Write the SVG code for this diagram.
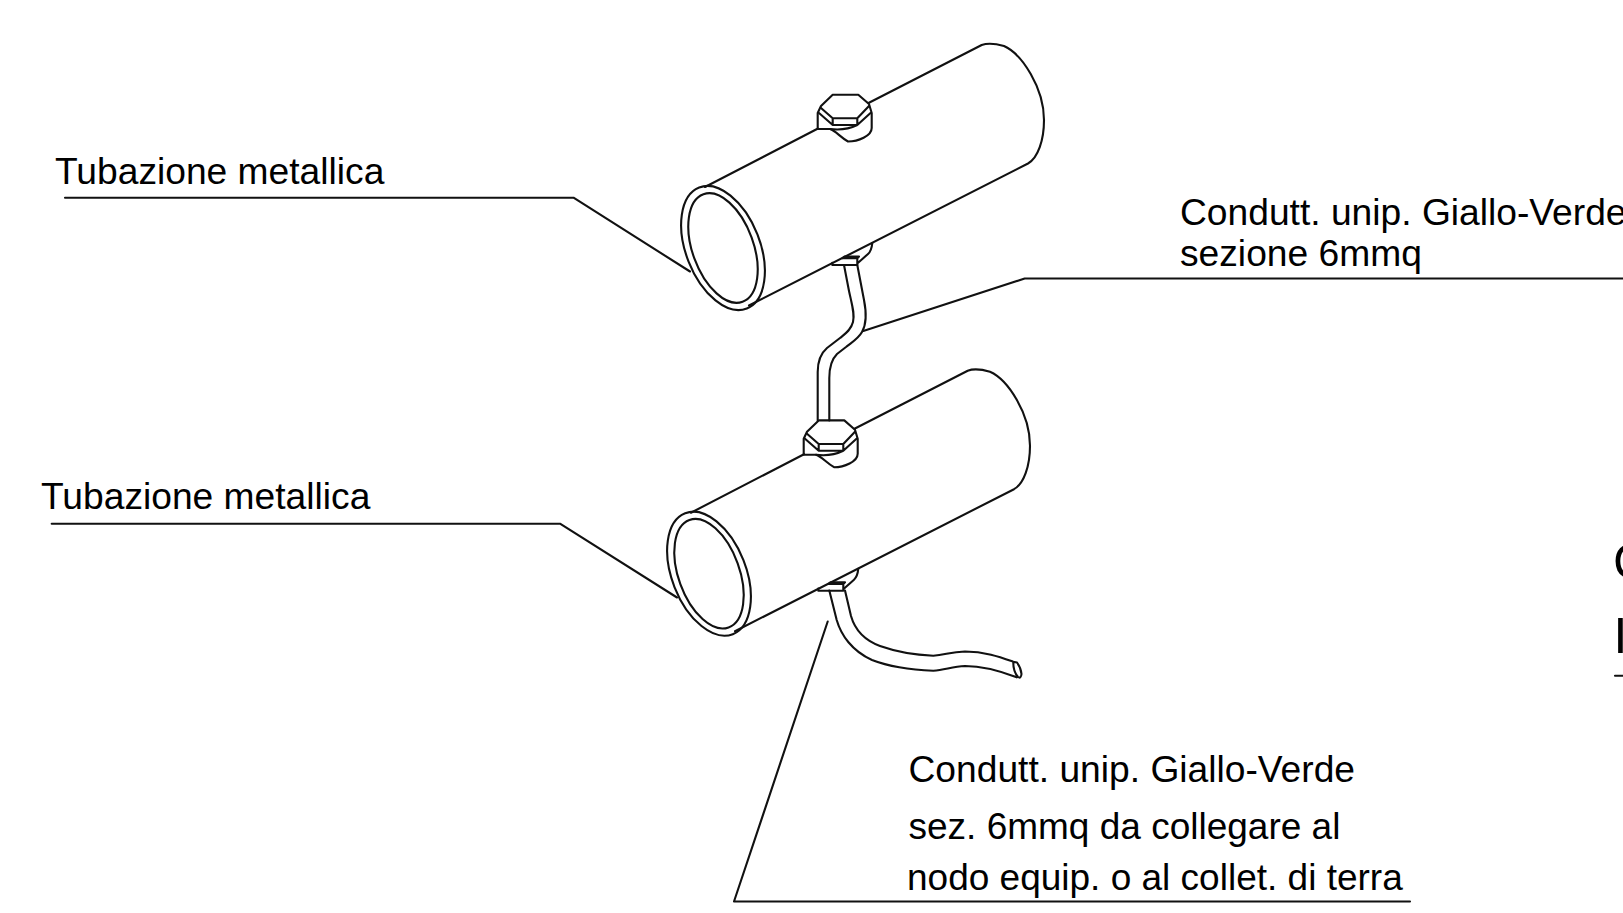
<svg xmlns="http://www.w3.org/2000/svg" xmlns:xlink="http://www.w3.org/1999/xlink" width="1623" height="913" viewBox="0 0 1623 913">
<style>
.l{fill:none;stroke:#111;stroke-width:2.1;stroke-linejoin:round;stroke-linecap:round}
.t{font-family:"Liberation Sans",Arial,sans-serif;font-size:37.2px;fill:#000}
.s{font-size:37px}
.b{font-family:"Liberation Sans",Arial,sans-serif;font-size:50px;fill:#000}
</style>
<defs>
<g id="pipe" class="l">
<ellipse cx="723" cy="248" rx="37" ry="65" transform="rotate(-21.5 723 248)"/>
<ellipse cx="723" cy="248" rx="30.5" ry="57.2" transform="rotate(-20 723 248)"/>
<path d="M705 187L818 128.5M868.5 103L981.7 45Q990 42 1004 46C1022 54 1044 88 1044 120C1044 140 1038 158 1028 163.5L749 305.5"/>
<path d="M821 106L832.7 94.7H858.3L869 104M821 106L817.7 113V129H830C836 131 840 137 848 141.5C858 141.5 871.7 136 871.7 128V113L869 104"/>
<path d="M832.7 118.3H857.3V125H832.7ZM821 108L832.7 118.3M819 113L832.7 125M869 106L857.3 118.3M870.5 113L857.3 125M830 129Q845 131 857.3 125"/>
<path d="M832.3 262.8V265H857.3V258.3H842.5M842.5 258.3L844.5 256.5H859L857.3 258.3M857.3 263.5L868 254Q871.5 251 872.3 243"/>
</g>
</defs>
<g id="pipe-upper"><use href="#pipe"/></g>
<g id="pipe-lower"><use href="#pipe" transform="translate(-14 325.7)"/></g>
<g id="connectors" class="l">
<path id="wire-link" d="M844 265L849 291C852 305 855 314 853 322C851 330 845 334 840 338L827 348C820 354 817.7 362 817.7 372V420.5M857.3 265L864 300C867 315 866 325 862 332C858 339 852 342 846 347L837 354C832 359 829.3 368 829.3 378V420.5"/>
<path id="wire-tail" d="M829.3 590.5L836.7 620C841 635 852 651 872 660C890 667 915 670 933.3 670.7C945 670 952 666.5 965 666C985 666 1003 672 1016.7 677.3M845 590.5L851 616C855 630 864 640 880 646C897 652 915 655 933.3 655.7C945 655 950 652 965 651.5C985 651.5 1000 657 1013.3 661.7L1017 662.5Q1021 668 1021.5 674Q1021 679 1018 677Q1013 671 1013.3 661.7"/>
<path id="leader-1" d="M65 197.7H573.5L690 271.5"/>
<path id="leader-2" d="M51.7 523.7H560L677 597.5"/>
<path id="leader-3" d="M863.3 331L1024.7 278.5H1623"/>
<path id="leader-4" d="M827.7 621.5L734 901.5H1410"/>
<path id="leader-5" d="M1615 675.7H1623"/>
</g>
<g id="labels">
<text class="t" x="55" y="184">Tubazione metallica</text>
<text class="t" x="41" y="509">Tubazione metallica</text>
<text class="t" x="1180" y="224.5">Condutt. unip. Giallo-Verde</text>
<text class="t" x="1180" y="266">sezione 6mmq</text>
<text class="t" x="908.5" y="781.5">Condutt. unip. Giallo-Verde</text>
<text class="t s" x="908.5" y="838.5">sez. 6mmq da collegare al</text>
<text class="t s" x="907" y="890">nodo equip. o al collet. di terra</text>
<text class="b" x="1613" y="579">C</text>
<text class="b" x="1613.5" y="653">I</text>
</g>
</svg>
